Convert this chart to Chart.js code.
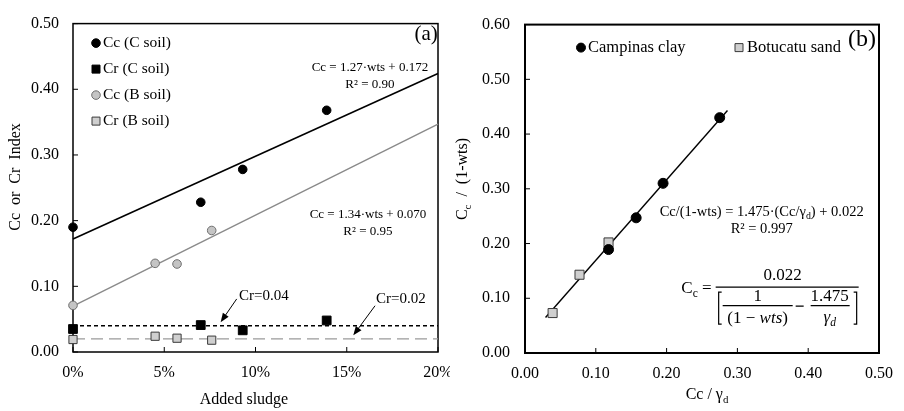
<!DOCTYPE html>
<html>
<head>
<meta charset="utf-8">
<script src="https://cdn.jsdelivr.net/npm/chart.js@4.4.0/dist/chart.umd.min.js"></script>
<style>
  body { margin: 0; background: #fff; }
  #wrapA { position: absolute; left: 0; top: 0; width: 450px; height: 411px; overflow: hidden; }
  #wrapB { position: absolute; left: 450px; top: 0; width: 454px; height: 411px; }
</style>
</head>
<body>
<div id="wrapA"><canvas id="chartA" width="470" height="411" style="width:470px;height:411px"></canvas></div>
<div id="wrapB"><canvas id="chartB" width="454" height="411" style="width:454px;height:411px"></canvas></div>
<script>
// ---- panel (a) data ----
const sludgeC = [0, 0.07, 0.093, 0.139];
const ccCsoil = [0.19, 0.228, 0.278, 0.368];
const crCsoil = [0.035, 0.041, 0.033, 0.048];
const sludgeB = [0, 0.045, 0.057, 0.076];
const ccBsoil = [0.071, 0.135, 0.134, 0.185];
const crBsoil = [0.019, 0.024, 0.021, 0.018];
const fitSludge = [0, 0.2];
const fitCcC = [0.172, 0.424];
const fitCcB = [0.070, 0.347];
const crLevelC = [0.04, 0.04];
const crLevelB = [0.02, 0.02];
const sludgeTicks = [0, 0.05, 0.10, 0.15, 0.20];
const sludgeTickLabels = ['0%', '5%', '10%', '15%', '20%'];
const indexTicks = [0, 0.1, 0.2, 0.3, 0.4, 0.5];
const indexTickLabels = ['0.00', '0.10', '0.20', '0.30', '0.40', '0.50'];

// ---- panel (b) data ----
const ratioClay = [0.118, 0.157, 0.195, 0.275];
const normClay = [0.189, 0.247, 0.31, 0.43];
const ratioSand = [0.039, 0.077, 0.118];
const normSand = [0.073, 0.143, 0.202];
const fitRatio = [0.029, 0.286];
const fitNorm = [0.065, 0.443];
const ratioTicks = [0, 0.1, 0.2, 0.3, 0.4, 0.5];
const ratioTickLabels = ['0.00', '0.10', '0.20', '0.30', '0.40', '0.50'];
const normTicks = [0, 0.1, 0.2, 0.3, 0.4, 0.5, 0.6];
const normTickLabels = ['0.00', '0.10', '0.20', '0.30', '0.40', '0.50', '0.60'];

const serif = '"Liberation Serif", "Times New Roman", serif';
const pts = (xs, ys) => xs.map((x, i) => ({ x: x, y: ys[i] }));

// text made of runs: [text, style] with style '', 'sub', 'it', 'subit'
function runs(ctx, parts, x, y, size, align, rot) {
  ctx.save();
  ctx.translate(x, y);
  if (rot) ctx.rotate(rot);
  ctx.textBaseline = 'middle';
  ctx.textAlign = 'left';
  ctx.fillStyle = '#000';
  const fontOf = p => ((p[1] || '').includes('it') ? 'italic ' : '') +
    ((p[1] || '').includes('sub') ? size * 0.68 : size) + 'px ' + serif;
  let w = 0;
  parts.forEach(p => { ctx.font = fontOf(p); w += ctx.measureText(p[0]).width; });
  let cx = align === 'left' ? 0 : align === 'right' ? -w : -w / 2;
  parts.forEach(p => {
    ctx.font = fontOf(p);
    ctx.fillText(p[0], cx, (p[1] || '').includes('sub') ? size * 0.32 : 0);
    cx += ctx.measureText(p[0]).width;
  });
  ctx.restore();
}

function at(chart, xv, yv) {
  return [chart.scales.x.getPixelForValue(xv), chart.scales.y.getPixelForValue(yv)];
}

function marker(ctx, style, x, y, r, fill, stroke) {
  ctx.save();
  ctx.fillStyle = fill;
  ctx.strokeStyle = stroke;
  ctx.lineWidth = 1;
  ctx.beginPath();
  if (style === 'circle') ctx.arc(x, y, r, 0, Math.PI * 2);
  else ctx.rect(x - r, y - r, 2 * r, 2 * r);
  ctx.fill();
  ctx.stroke();
  ctx.restore();
}

function arrow(ctx, x1, y1, x2, y2) {
  const a = Math.atan2(y2 - y1, x2 - x1);
  ctx.save();
  ctx.strokeStyle = '#000';
  ctx.fillStyle = '#000';
  ctx.lineWidth = 1;
  ctx.beginPath();
  ctx.moveTo(x1, y1);
  ctx.lineTo(x2 - 6 * Math.cos(a), y2 - 6 * Math.sin(a));
  ctx.stroke();
  ctx.beginPath();
  ctx.moveTo(x2, y2);
  ctx.lineTo(x2 - 9 * Math.cos(a) + 3.5 * Math.sin(a), y2 - 9 * Math.sin(a) - 3.5 * Math.cos(a));
  ctx.lineTo(x2 - 9 * Math.cos(a) - 3.5 * Math.sin(a), y2 - 9 * Math.sin(a) + 3.5 * Math.cos(a));
  ctx.closePath();
  ctx.fill();
  ctx.restore();
}

// box round the plot and short ticks pointing inward
const frame = {
  id: 'frame',
  beforeDatasetsDraw(chart, args, opts) {
    const { ctx, chartArea: a } = chart;
    ctx.save();
    ctx.strokeStyle = '#000';
    ctx.lineWidth = 1;
    ctx.beginPath();
    chart.scales.x.ticks.forEach(t => {
      const px = chart.scales.x.getPixelForValue(t.value);
      ctx.moveTo(px, a.bottom);
      ctx.lineTo(px, a.bottom - 5);
    });
    chart.scales.y.ticks.forEach(t => {
      const py = chart.scales.y.getPixelForValue(t.value);
      ctx.moveTo(a.left, py);
      ctx.lineTo(a.left + 5, py);
    });
    ctx.stroke();
    ctx.lineWidth = opts.width;
    ctx.strokeRect(a.left, a.top, a.right - a.left, a.bottom - a.top);
    ctx.restore();
  }
};

const baseScales = (xt, xl, yt, yl, xmax, ymax, xh, yw, ypad) => ({
  x: {
    type: 'linear', min: 0, max: xmax,
    afterBuildTicks: s => { s.ticks = xt.map(v => ({ value: v })); },
    ticks: { callback: (v, i) => xl[i], font: { family: serif, size: 16 }, color: '#000', padding: 11, maxRotation: 0, autoSkip: false },
    grid: { display: false, drawTicks: false },
    border: { display: false },
    afterFit: s => { s.height = xh; }
  },
  y: {
    type: 'linear', min: 0, max: ymax,
    afterBuildTicks: s => { s.ticks = yt.map(v => ({ value: v })); },
    ticks: { callback: (v, i) => yl[i], font: { family: serif, size: 16 }, color: '#000', padding: ypad, autoSkip: false },
    grid: { display: false, drawTicks: false },
    border: { display: false },
    afterFit: s => { s.width = yw; }
  }
});

// ---------------- panel (a) ----------------
const notesA = {
  id: 'notesA',
  afterDatasetsDraw(chart) {
    const ctx = chart.ctx, a = chart.chartArea;
    // legend
    const rows = [
      ['circle', '#000', '#000', 'Cc (C soil)'],
      ['rect', '#000', '#000', 'Cr (C soil)'],
      ['circle', '#c4c4c4', '#6e6e6e', 'Cc (B soil)'],
      ['rect', '#cfcfcf', '#3a3a3a', 'Cr (B soil)']
    ];
    rows.forEach((r, i) => {
      const y = a.top + 19.5 + i * 26;
      marker(ctx, r[0], a.left + 23, y, r[0] === 'circle' ? 4.3 : 4, r[1], r[2]);
      runs(ctx, [[r[3]]], a.left + 30, y, 15.5, 'left');
    });
    let p = at(chart, 0.1627, 0.4326);
    runs(ctx, [['Cc = 1.27·wts + 0.172']], p[0], p[1], 13, 'center');
    p = at(chart, 0.1627, 0.4072);
    runs(ctx, [['R² = 0.90']], p[0], p[1], 13, 'center');
    p = at(chart, 0.1616, 0.2096);
    runs(ctx, [['Cc = 1.34·wts + 0.070']], p[0], p[1], 13, 'center');
    p = at(chart, 0.1616, 0.1826);
    runs(ctx, [['R² = 0.95']], p[0], p[1], 13, 'center');
    p = at(chart, 0.1935, 0.484);
    runs(ctx, [['(a)']], p[0], p[1], 21, 'center');
    p = at(chart, 0.091, 0.0853);
    runs(ctx, [['Cr=0.04']], p[0], p[1], 15, 'left');
    p = at(chart, 0.166, 0.0808);
    runs(ctx, [['Cr=0.02']], p[0], p[1], 15, 'left');
    let s = at(chart, 0.0897, 0.0808), t = at(chart, 0.0809, 0.0454);
    arrow(ctx, s[0], s[1], t[0], t[1]);
    s = at(chart, 0.1655, 0.0704); t = at(chart, 0.1536, 0.0254);
    arrow(ctx, s[0], s[1], t[0], t[1]);
    // axis titles
    runs(ctx, [['Cc  or  Cr  Index']], 16, 177, 16, 'center', -Math.PI / 2);
    runs(ctx, [['Added sludge']], 244, 400, 16, 'center');
  }
};

new Chart(document.getElementById('chartA'), {
  type: 'scatter',
  data: {
    datasets: [
      { data: pts(sludgeC, ccCsoil), pointStyle: 'circle', pointRadius: 4.3, backgroundColor: '#000', borderColor: '#000', borderWidth: 1, clip: false, order: 0 },
      { data: pts(sludgeC, crCsoil), pointStyle: 'rect', pointRadius: 6.2, backgroundColor: '#000', borderColor: '#000', borderWidth: 1, clip: false, order: 0 },
      { data: pts(sludgeB, ccBsoil), pointStyle: 'circle', pointRadius: 4.3, backgroundColor: '#c4c4c4', borderColor: '#6e6e6e', borderWidth: 1, clip: false, order: 0 },
      { data: pts(sludgeB, crBsoil), pointStyle: 'rect', pointRadius: 5.8, backgroundColor: '#cfcfcf', borderColor: '#3a3a3a', borderWidth: 1, clip: false, order: 0 },
      { data: pts(fitSludge, fitCcC), showLine: true, pointRadius: 0, borderColor: '#000', borderWidth: 1.6, clip: false, order: 1 },
      { data: pts(fitSludge, fitCcB), showLine: true, pointRadius: 0, borderColor: '#8a8a8a', borderWidth: 1.4, clip: false, order: 1 },
      { data: pts(fitSludge, crLevelC), showLine: true, pointRadius: 0, borderColor: '#000', borderWidth: 1.3, borderDash: [4, 3], clip: false, order: 1 },
      { data: pts(fitSludge, crLevelB), showLine: true, pointRadius: 0, borderColor: '#9a9a9a', borderWidth: 1.4, borderDash: [12, 6], clip: false, order: 1 }
    ]
  },
  options: {
    responsive: false,
    animation: false,
    events: [],
    layout: { padding: { left: 0, top: 18, right: 32, bottom: 0 } },
    plugins: { legend: { display: false }, tooltip: { enabled: false }, frame: { width: 1.5 } },
    scales: baseScales(sludgeTicks, sludgeTickLabels, indexTicks, indexTickLabels, 0.2, 0.5, 59, 73, 14)
  },
  plugins: [frame, notesA]
});

// ---------------- panel (b) ----------------
const notesB = {
  id: 'notesB',
  afterDatasetsDraw(chart) {
    const ctx = chart.ctx, a = chart.chartArea;
    // legend
    marker(ctx, 'circle', a.left + 56, a.top + 23, 4.5, '#000', '#000');
    runs(ctx, [['Campinas clay']], a.left + 63, a.top + 23, 16.5, 'left');
    marker(ctx, 'rect', a.left + 214, a.top + 23, 4, '#cfcfcf', '#3a3a3a');
    runs(ctx, [['Botucatu sand']], a.left + 222, a.top + 23, 16.5, 'left');
    runs(ctx, [['(b)']], a.right - 17, a.top + 15, 24, 'center');
    // regression text
    let p = at(chart, 0.3343, 0.258);
    runs(ctx, [['Cc/(1-wts) = 1.475·(Cc/γ'], ['d', 'sub'], [') + 0.022']], p[0], p[1], 14.5, 'center');
    p = at(chart, 0.3343, 0.2257);
    runs(ctx, [['R² = 0.997']], p[0], p[1], 14.5, 'center');
    // formula for Cc
    const o = at(chart, 0.2693, 0.1205);
    const bx = o[0], by = o[1];
    ctx.save();
    ctx.strokeStyle = '#000';
    ctx.lineWidth = 1.2;
    ctx.beginPath();
    ctx.moveTo(bx, by); ctx.lineTo(bx + 143, by);
    ctx.moveTo(bx + 7, by + 18.5); ctx.lineTo(bx + 77, by + 18.5);
    ctx.moveTo(bx + 95, by + 18.5); ctx.lineTo(bx + 134, by + 18.5);
    ctx.moveTo(bx + 80, by + 19); ctx.lineTo(bx + 88, by + 19);
    // brackets
    ctx.moveTo(bx + 6, by + 5); ctx.lineTo(bx + 3, by + 5); ctx.lineTo(bx + 3, by + 37); ctx.lineTo(bx + 6, by + 37);
    ctx.moveTo(bx + 138, by + 5); ctx.lineTo(bx + 141, by + 5); ctx.lineTo(bx + 141, by + 37); ctx.lineTo(bx + 138, by + 37);
    ctx.stroke();
    ctx.restore();
    runs(ctx, [['C'], ['c', 'sub'], [' =']], bx - 4, by + 1, 17, 'right');
    runs(ctx, [['0.022']], bx + 67, by - 12, 17, 'center');
    runs(ctx, [['1']], bx + 42, by + 9, 17, 'center');
    runs(ctx, [['(1 − '], ['wts', 'it'], [')']], bx + 42, by + 31, 17, 'center');
    runs(ctx, [['1.475']], bx + 114, by + 9, 17, 'center');
    runs(ctx, [['γ', 'it'], ['d', 'subit']], bx + 114, by + 30, 17, 'center');
    // axis titles
    runs(ctx, [['C'], ['c', 'sub'], ['  /  (1-wts)']], 13, 179, 16, 'center', -Math.PI / 2);
    runs(ctx, [['Cc / γ'], ['d', 'sub']], 257, 395, 16, 'center');
  }
};

new Chart(document.getElementById('chartB'), {
  type: 'scatter',
  data: {
    datasets: [
      { data: pts(ratioClay, normClay), pointStyle: 'circle', pointRadius: 5, backgroundColor: '#000', borderColor: '#000', borderWidth: 1, clip: false, order: 0 },
      { data: pts(ratioSand, normSand), pointStyle: 'rect', pointRadius: 6.4, backgroundColor: '#cfcfcf', borderColor: '#3a3a3a', borderWidth: 1, clip: false, order: 0 },
      { data: pts(fitRatio, fitNorm), showLine: true, pointRadius: 0, borderColor: '#000', borderWidth: 1.4, clip: false, order: 1 }
    ]
  },
  options: {
    responsive: false,
    animation: false,
    events: [],
    layout: { padding: { left: 0, top: 18, right: 17, bottom: 0 } },
    plugins: { legend: { display: false }, tooltip: { enabled: false }, frame: { width: 2 } },
    scales: baseScales(ratioTicks, ratioTickLabels, normTicks, normTickLabels, 0.5, 0.6, 58, 75, 15)
  },
  plugins: [frame, notesB]
});
</script>
</body>
</html>
